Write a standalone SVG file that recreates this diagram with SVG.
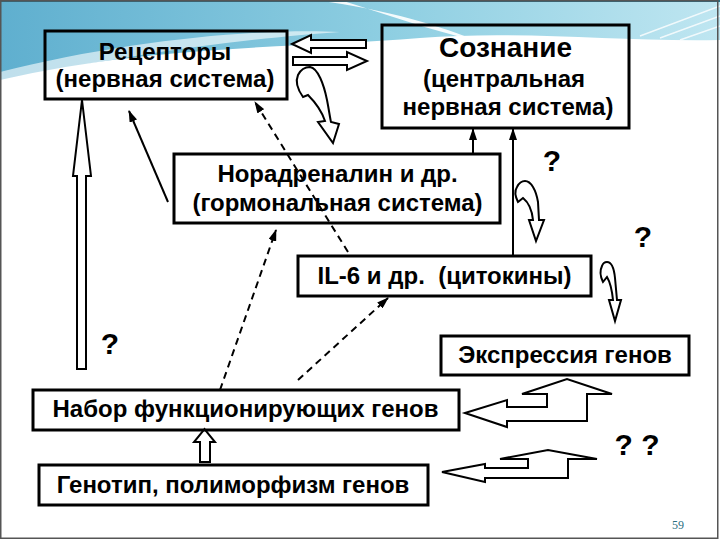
<svg xmlns="http://www.w3.org/2000/svg" width="720" height="540" viewBox="0 0 720 540">
<style>
.box{fill:none;stroke:#000;stroke-width:3}
.t{font-family:"Liberation Sans",Arial,sans-serif;font-weight:bold;font-size:24px;fill:#000;text-anchor:middle}
.q{font-family:"Liberation Sans",Arial,sans-serif;font-weight:bold;font-size:30px;fill:#000;text-anchor:middle}
.ha{fill:#fff;stroke:#000;stroke-width:2;stroke-linejoin:miter}
.ln{fill:none;stroke:#000;stroke-width:2}
.dash{fill:none;stroke:#000;stroke-width:2;stroke-dasharray:7,5}
</style>
<defs>
<linearGradient id="bg" x1="0" y1="0" x2="1" y2="0">
<stop offset="0" stop-color="#5fafcf"/>
<stop offset="0.55" stop-color="#8fcfe2"/>
<stop offset="1" stop-color="#bfe6f1"/>
</linearGradient>
<marker id="ah" markerUnits="userSpaceOnUse" markerWidth="12" markerHeight="8" refX="11" refY="4" orient="auto">
<path d="M0,0 L12,4 L0,8 Z" fill="#000"/>
</marker>
</defs>
<rect width="720" height="540" fill="#fff"/>
<g id="background">
<path d="M0,0 L720,0 L720,40 C620,42 520,30 420,38 C300,48 150,45 0,80 Z" fill="url(#bg)"/>
<path d="M0,72 C120,42 250,28 340,32 C250,38 120,55 0,82 Z" fill="#fff" opacity="0.6"/>
<path d="M315,0 C390,10 440,26 480,42 C430,30 385,14 340,0 Z" fill="#fff" opacity="0.9"/>
<path d="M640,36 L720,6 M660,38 L720,16 M680,40 L720,26" stroke="#fff" stroke-width="1.5" opacity="0.8"/>
<rect x="0" y="0" width="720" height="2" fill="#2a6f86"/>
<rect x="0.75" y="0.75" width="717" height="537.5" fill="none" stroke="#555" stroke-width="1.5"/>
</g>
<g id="connectors">
<line class="ln" x1="168" y1="202" x2="129" y2="111" marker-end="url(#ah)"/>
<line class="dash" x1="348" y1="252" x2="255" y2="102" marker-end="url(#ah)"/>
<line class="dash" x1="220" y1="390" x2="276" y2="230" marker-end="url(#ah)"/>
<line class="dash" x1="298" y1="380" x2="388" y2="298" marker-end="url(#ah)"/>
<line class="ln" x1="473" y1="154" x2="473" y2="129" marker-end="url(#ah)"/>
<line class="ln" x1="513" y1="256" x2="513" y2="129" marker-end="url(#ah)"/>
<polygon class="ha" points="292,44 311,35 311,40 366,40 366,48 311,48 311,53"/>
<polygon class="ha" points="293,57 347,57 347,52 367,61 347,70 347,65 293,65"/>
<polygon class="ha" points="77,369 77,176 73,176 82,100 91,176 86,176 86,369"/>
<polygon class="ha" points="200,462 200,442 194,442 204.5,429 215,442 210,442 210,462"/>
<path class="ha" d="M303,97 C298,90 295,82 298,75 C301,69 306,67 310,67 C318,68 324,85 327,100 C329,110 330,118 331,122 L339,124 L333,143 L318,122 L325,121 C322,112 316,103 308,95 Z"/>
<path class="ha" d="M518,202 C515,196 515,190 517,187 C519,183 522,181 525,181 C531,181 536,190 538,202 L539,220 L544,220 L536,241 L529,220 L533,220 C532,210 528,202 523,198 Z"/>
<path class="ha" d="M603,282 C600,276 600,270 602,266 C603,263 605,262 607,262 C611,262 614,268 615,278 L617,300 L621,300 L615,321 L609,300 L613,300 C612,290 610,282 607,277 Z"/>
<polygon class="ha" points="465,413 507,400 507,407 547,407 547,394 522,394 567,379 612,394 587,394 587,421 507,421 507,427"/>
<polygon class="ha" points="442,472 485,464 485,468 528,468 528,459 500,459 548,450 597,459 568,459 568,478 485,478 485,482"/>
</g>
<g id="n-receptors">
<rect class="box" x="45" y="31" width="242" height="68"/>
<text class="t" x="165" y="60">Рецепторы</text>
<text class="t" x="165" y="87">(нервная система)</text>
</g>
<g id="n-consciousness">
<rect class="box" x="382" y="25" width="247" height="103"/>
<text class="t" x="505.5" y="57" style="font-size:28px">Сознание</text>
<text class="t" x="504" y="87">(центральная</text>
<text class="t" x="508" y="115">нервная система)</text>
</g>
<g id="n-noradrenaline">
<rect class="box" x="174" y="154" width="326" height="69"/>
<text class="t" x="337.5" y="182">Норадреналин и др.</text>
<text class="t" x="337.5" y="211">(гормональная система)</text>
</g>
<g id="n-il6">
<rect class="box" x="298" y="256" width="293" height="40"/>
<text class="t" x="444.5" y="284" xml:space="preserve">IL-6 и др.  (цитокины)</text>
</g>
<g id="n-expression">
<rect class="box" x="441" y="336" width="248" height="39"/>
<text class="t" x="565" y="363">Экспрессия генов</text>
</g>
<g id="n-genes">
<rect class="box" x="33" y="390" width="426" height="40"/>
<text class="t" x="245.5" y="417">Набор функционирующих генов</text>
</g>
<g id="n-genotype">
<rect class="box" x="39" y="465" width="389" height="40"/>
<text class="t" x="233" y="493">Генотип, полиморфизм генов</text>
</g>
<g id="questions">
<text class="q" x="552" y="171">?</text>
<text class="q" x="643" y="247">?</text>
<text class="q" x="110" y="354">?</text>
<text class="q" x="637" y="455" xml:space="preserve">? ?</text>
</g>
<text x="678" y="529" style="font-family:'Liberation Serif',serif;font-size:12px;fill:#2a6f7f;text-anchor:middle">59</text>
</svg>
